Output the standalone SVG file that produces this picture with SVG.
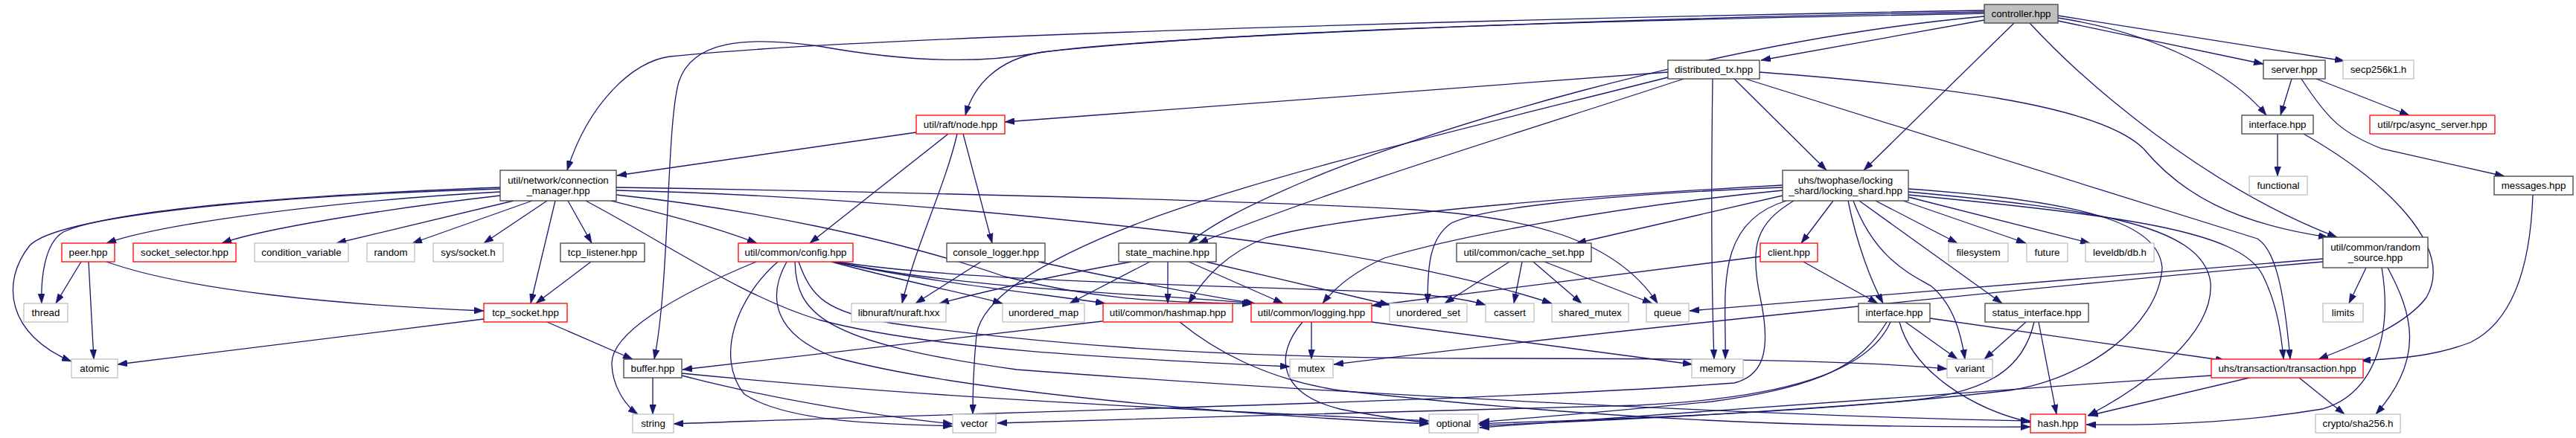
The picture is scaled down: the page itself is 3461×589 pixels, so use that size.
<svg xmlns="http://www.w3.org/2000/svg" width="3461" height="589" viewBox="0 0 3461 589">
<defs>
<style>
.n rect{fill:#fff;stroke:#404040;stroke-width:1.3}
.n.r rect{stroke:#ff0000}
.n.g rect{stroke:#bfbfbf}
.n.root rect{fill:#bfbfbf}
text{font-family:"Liberation Sans",Arial,Helvetica,sans-serif;font-size:13.33px;text-anchor:middle;fill:#000}
#edges path{fill:none;stroke:#191970;stroke-width:1.3;marker-end:url(#ah)}
</style>
<marker id="ah" viewBox="0 0 10 10" refX="10" refY="5" markerWidth="13" markerHeight="9" markerUnits="userSpaceOnUse" orient="auto" preserveAspectRatio="none"><path d="M0,0 L10,5 L0,10 z" fill="#191970" stroke="#191970" stroke-width="0.5"/></marker>
</defs>
<rect x="0" y="0" width="3461" height="589" fill="#fff"/>
<g id="edges">
<path d="M2666,14 C2200,22 1200,45 900,76 C850,82 790,140 762,229"/>
<path d="M2666,18 C2200,27 1700,38 1400,70 C1340,80 1308,115 1297,155"/>
<path d="M2666,16 C2100,26 1500,52 1390,72 C1300,88 1200,80 1100,62 C1000,48 930,55 912,110 C895,170 900,380 879,483"/>
<path d="M2666,22 C2300,55 1900,180 1750,245 C1680,275 1630,300 1597,327"/>
<path d="M2666,27 L2366,81"/>
<path d="M2706,31 L2504,229"/>
<path d="M2727,31 C2800,110 2960,250 3140,319"/>
<path d="M2765,24 C2900,45 3000,100 3045,155"/>
<path d="M2765,28 L3041,86"/>
<path d="M2765,21 L3150,82"/>
<path d="M2241,97 L1350,164"/>
<path d="M2262,106 C2100,160 1800,250 1610,327"/>
<path d="M2241,104 C2000,165 1700,235 1530,300 C1400,350 1320,400 1312,450 C1308,490 1307,530 1307,557"/>
<path d="M2301,106 C2299,250 2300,400 2303,483"/>
<path d="M2330,106 L2454,229"/>
<path d="M2364,97 C2600,115 2820,140 2880,200 C2930,260 3000,300 3128,319"/>
<path d="M2345,106 L3033,321 C3055,335 3068,380 3077,483"/>
<path d="M3079,106 L3064,155"/>
<path d="M3112,106 L3237,155"/>
<path d="M3092,106 C3130,165 3150,180 3200,200 L3365,237"/>
<path d="M3060,180 L3060,237"/>
<path d="M3095,180 C3200,240 3300,330 3260,400 C3230,440 3160,465 3115,483"/>
<path d="M3403,262 C3400,350 3380,430 3320,460 C3270,480 3220,482 3172,485"/>
<path d="M3179,360 L3156,408"/>
<path d="M3208,360 C3240,420 3260,480 3192,557"/>
<path d="M3200,360 C3215,450 3190,530 3120,550 C3000,570 2880,572 2803,571"/>
<path d="M3121,348 L2270,418"/>
<path d="M3121,352 C2800,380 2200,440 1792,490"/>
<path d="M1231,178 L829,236"/>
<path d="M1274,180 L1088,327"/>
<path d="M1286,180 C1270,250 1230,330 1212,408"/>
<path d="M1294,180 L1333,327"/>
<path d="M672,252 C400,262 150,282 85,312 C58,328 55,380 56,408"/>
<path d="M672,254 C350,264 80,290 40,330 C0,380 10,450 96,486"/>
<path d="M672,258 C450,270 220,300 143,327"/>
<path d="M672,263 C550,277 360,305 298,327"/>
<path d="M690,270 L452,327"/>
<path d="M715,270 L554,327"/>
<path d="M735,270 L650,327"/>
<path d="M746,270 L713,408"/>
<path d="M763,270 L795,327"/>
<path d="M787,270 C900,330 1000,400 1100,430 C1250,470 1500,482 1733,493"/>
<path d="M821,270 C900,290 960,305 1017,327"/>
<path d="M828,252 C1200,258 1700,270 1900,282 C2050,292 2170,320 2227,408"/>
<path d="M828,256 C1100,262 1400,290 1650,320 C1850,345 2000,380 2085,408"/>
<path d="M828,262 C1000,280 1200,320 1350,372 C1500,410 1600,405 1682,409"/>
<path d="M109,352 L75,408"/>
<path d="M119,352 L126,483"/>
<path d="M143,352 C250,390 450,410 650,418"/>
<path d="M794,352 L720,408"/>
<path d="M650,429 L158,490"/>
<path d="M735,433 L850,483"/>
<path d="M877,508 L877,557"/>
<path d="M916,505 C1050,540 1200,562 1280,570"/>
<path d="M916,502 C1300,540 1700,555 1920,566"/>
<path d="M1016,352 C900,400 820,450 822,490 C823,520 840,545 857,557"/>
<path d="M1045,352 C990,400 960,480 1000,530 C1060,570 1200,570 1280,573"/>
<path d="M1057,352 C1030,400 1040,450 1120,480 C1300,530 1700,560 1920,570"/>
<path d="M1073,352 C1090,400 1110,420 1200,435 C1450,470 1700,482 2000,482 C2300,482 2500,485 2616,496"/>
<path d="M1068,352 C1070,420 1100,460 1366,497 C1800,530 2400,560 2728,566"/>
<path d="M1117,352 C1200,375 1300,395 1347,408"/>
<path d="M1120,352 C1250,380 1400,395 1485,408"/>
<path d="M1122,352 C1300,390 1550,395 1684,408"/>
<path d="M1125,352 C1300,380 1700,385 1860,393 C1920,396 1970,402 1996,410"/>
<path d="M1318,352 L1230,408"/>
<path d="M1395,352 C1480,370 1600,395 1686,408"/>
<path d="M1520,352 C1420,370 1330,390 1262,408"/>
<path d="M1545,352 L1437,408"/>
<path d="M1569,352 L1569,408"/>
<path d="M1597,352 L1724,408"/>
<path d="M1620,352 C1700,370 1800,395 1867,410"/>
<path d="M1481,432 L917,497"/>
<path d="M1585,433 C1630,470 1700,510 1800,525 C2200,570 2500,575 2728,574"/>
<path d="M1762,433 L1762,483"/>
<path d="M1750,433 C1710,480 1720,530 1800,550 C1850,560 1890,565 1920,569"/>
<path d="M1843,433 L2274,490"/>
<path d="M2028,352 L1941,408"/>
<path d="M2045,352 L2034,408"/>
<path d="M2060,352 L2125,408"/>
<path d="M2075,352 L2220,408"/>
<path d="M2365,345 L1843,411"/>
<path d="M2423,352 L2523,408"/>
<path d="M2463,270 L2420,327"/>
<path d="M2483,270 C2495,330 2515,380 2530,408"/>
<path d="M2490,270 C2520,350 2570,370 2595,385 C2625,410 2635,450 2640,483"/>
<path d="M2498,270 L2690,408"/>
<path d="M2520,270 L2630,327"/>
<path d="M2557,270 L2722,327"/>
<path d="M2564,265 L2808,327"/>
<path d="M2564,258 C2800,280 2960,300 2970,380 C2975,450 2880,520 2805,559"/>
<path d="M2564,262 C2850,290 3010,310 3040,370 C3060,410 3065,450 3068,483"/>
<path d="M2564,254 C2800,270 2900,300 2905,360 C2900,440 2800,510 2700,525 C2400,560 2100,565 1986,570"/>
<path d="M2400,270 C2300,300 2320,400 2318,483"/>
<path d="M2410,270 C2360,300 2350,330 2365,400 C2380,470 2370,505 2330,515 C2000,540 1300,555 905,570"/>
<path d="M2395,252 C2150,262 1990,280 1950,300 C1920,320 1918,360 1918,408"/>
<path d="M2395,263 L2118,327"/>
<path d="M2395,249 C2100,265 1800,290 1700,320 C1650,340 1620,370 1597,408"/>
<path d="M2395,256 C2150,280 1950,320 1860,347 C1820,365 1795,385 1777,408"/>
<path d="M2560,433 L2630,483"/>
<path d="M2552,433 C2570,500 2650,550 2728,568"/>
<path d="M2593,428 L2990,485"/>
<path d="M2535,433 C2500,490 2450,520 2300,540 C2150,555 2050,562 1988,568"/>
<path d="M2540,433 C2510,500 2400,535 2200,545 C2000,552 1600,560 1340,569"/>
<path d="M2722,433 L2666,483"/>
<path d="M2739,433 L2763,557"/>
<path d="M2733,433 C2720,490 2680,530 2550,540 C2300,560 2100,568 1988,572"/>
<path d="M3022,508 L2806,559"/>
<path d="M3089,508 L3150,557"/>
<path d="M2971,505 C2600,530 2200,560 1988,575"/>
</g>
<g id="controller" class="n root"><rect x="2666" y="6" width="99" height="25"/><text x="2715.5" y="23">controller.hpp</text></g>
<g id="distributed_tx" class="n"><rect x="2241" y="81" width="123" height="25"/><text x="2302.5" y="98">distributed_tx.hpp</text></g>
<g id="server" class="n"><rect x="3041" y="81" width="83" height="25"/><text x="3082.5" y="98">server.hpp</text></g>
<g id="secp256k1" class="n g"><rect x="3148" y="81" width="95" height="25"/><text x="3195.5" y="98">secp256k1.h</text></g>
<g id="raft_node" class="n r"><rect x="1231" y="155" width="119" height="25"/><text x="1290.5" y="172">util/raft/node.hpp</text></g>
<g id="interface_top" class="n"><rect x="3012" y="155" width="96" height="25"/><text x="3060" y="172">interface.hpp</text></g>
<g id="async_server" class="n r"><rect x="3184" y="155" width="168" height="25"/><text x="3268" y="172">util/rpc/async_server.hpp</text></g>
<g id="connection_manager" class="n"><rect x="672" y="229" width="156" height="41"/><text x="750" y="247">util/network/connection</text><text x="750" y="261">_manager.hpp</text></g>
<g id="locking_shard" class="n"><rect x="2395" y="229" width="169" height="41"/><text x="2479.5" y="247">uhs/twophase/locking</text><text x="2479.5" y="261">_shard/locking_shard.hpp</text></g>
<g id="functional" class="n g"><rect x="3022" y="237" width="78" height="25"/><text x="3061" y="254">functional</text></g>
<g id="messages" class="n"><rect x="3351" y="237" width="106" height="25"/><text x="3404" y="254">messages.hpp</text></g>
<g id="peer" class="n r"><rect x="83" y="327" width="71" height="25"/><text x="118.5" y="344">peer.hpp</text></g>
<g id="socket_selector" class="n r"><rect x="179" y="327" width="138" height="25"/><text x="248" y="344">socket_selector.hpp</text></g>
<g id="condition_variable" class="n g"><rect x="342" y="327" width="126" height="25"/><text x="405" y="344">condition_variable</text></g>
<g id="random" class="n g"><rect x="493" y="327" width="64" height="25"/><text x="525" y="344">random</text></g>
<g id="sys_socket" class="n g"><rect x="582" y="327" width="94" height="25"/><text x="629" y="344">sys/socket.h</text></g>
<g id="tcp_listener" class="n"><rect x="753" y="327" width="113" height="25"/><text x="809.5" y="344">tcp_listener.hpp</text></g>
<g id="config" class="n r"><rect x="992" y="327" width="154" height="25"/><text x="1069" y="344">util/common/config.hpp</text></g>
<g id="console_logger" class="n"><rect x="1272" y="327" width="132" height="25"/><text x="1338" y="344">console_logger.hpp</text></g>
<g id="state_machine" class="n"><rect x="1503" y="327" width="131" height="25"/><text x="1568.5" y="344">state_machine.hpp</text></g>
<g id="cache_set" class="n"><rect x="1957" y="327" width="181" height="25"/><text x="2047.5" y="344">util/common/cache_set.hpp</text></g>
<g id="client" class="n r"><rect x="2365" y="327" width="77" height="25"/><text x="2403.5" y="344">client.hpp</text></g>
<g id="filesystem" class="n g"><rect x="2618" y="327" width="80" height="25"/><text x="2658" y="344">filesystem</text></g>
<g id="future" class="n g"><rect x="2723" y="327" width="55" height="25"/><text x="2750.5" y="344">future</text></g>
<g id="leveldb" class="n g"><rect x="2802" y="327" width="92" height="25"/><text x="2848" y="344">leveldb/db.h</text></g>
<g id="random_source" class="n"><rect x="3121" y="319" width="141" height="41"/><text x="3191.5" y="337">util/common/random</text><text x="3191.5" y="351">_source.hpp</text></g>
<g id="thread" class="n g"><rect x="32" y="408" width="59" height="25"/><text x="61.5" y="425">thread</text></g>
<g id="tcp_socket" class="n r"><rect x="650" y="408" width="112" height="25"/><text x="706" y="425">tcp_socket.hpp</text></g>
<g id="libnuraft" class="n g"><rect x="1144" y="408" width="127" height="25"/><text x="1207.5" y="425">libnuraft/nuraft.hxx</text></g>
<g id="unordered_map" class="n g"><rect x="1347" y="408" width="110" height="25"/><text x="1402" y="425">unordered_map</text></g>
<g id="hashmap" class="n r"><rect x="1482" y="408" width="174" height="25"/><text x="1569" y="425">util/common/hashmap.hpp</text></g>
<g id="logging" class="n r"><rect x="1681" y="408" width="162" height="25"/><text x="1762" y="425">util/common/logging.hpp</text></g>
<g id="unordered_set" class="n g"><rect x="1867" y="408" width="104" height="25"/><text x="1919" y="425">unordered_set</text></g>
<g id="cassert" class="n g"><rect x="1996" y="408" width="65" height="25"/><text x="2028.5" y="425">cassert</text></g>
<g id="shared_mutex" class="n g"><rect x="2085" y="408" width="103" height="25"/><text x="2136.5" y="425">shared_mutex</text></g>
<g id="queue" class="n g"><rect x="2212" y="408" width="57" height="25"/><text x="2240.5" y="425">queue</text></g>
<g id="interface2" class="n"><rect x="2497" y="408" width="96" height="25"/><text x="2545" y="425">interface.hpp</text></g>
<g id="status_interface" class="n"><rect x="2667" y="408" width="139" height="25"/><text x="2736.5" y="425">status_interface.hpp</text></g>
<g id="limits" class="n g"><rect x="3121" y="408" width="54" height="25"/><text x="3148" y="425">limits</text></g>
<g id="atomic" class="n g"><rect x="96" y="483" width="62" height="25"/><text x="127" y="500">atomic</text></g>
<g id="buffer" class="n"><rect x="838" y="483" width="78" height="25"/><text x="877" y="500">buffer.hpp</text></g>
<g id="mutex" class="n g"><rect x="1733" y="483" width="58" height="25"/><text x="1762" y="500">mutex</text></g>
<g id="memory" class="n g"><rect x="2273" y="483" width="69" height="25"/><text x="2307.5" y="500">memory</text></g>
<g id="variant" class="n g"><rect x="2616" y="483" width="61" height="25"/><text x="2646.5" y="500">variant</text></g>
<g id="transaction" class="n r"><rect x="2971" y="483" width="204" height="25"/><text x="3073" y="500">uhs/transaction/transaction.hpp</text></g>
<g id="string" class="n g"><rect x="850" y="557" width="55" height="25"/><text x="877.5" y="574">string</text></g>
<g id="vector" class="n g"><rect x="1280" y="557" width="58" height="25"/><text x="1309" y="574">vector</text></g>
<g id="optional" class="n g"><rect x="1920" y="557" width="66" height="25"/><text x="1953" y="574">optional</text></g>
<g id="hash" class="n r"><rect x="2728" y="557" width="74" height="25"/><text x="2765" y="574">hash.hpp</text></g>
<g id="crypto_sha256" class="n g"><rect x="3111" y="557" width="114" height="25"/><text x="3168" y="574">crypto/sha256.h</text></g>
</svg>
